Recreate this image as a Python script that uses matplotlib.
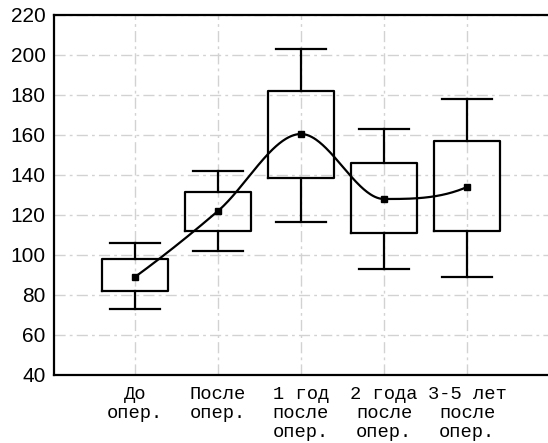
import matplotlib
matplotlib.use("Agg")
import matplotlib.pyplot as plt
import numpy as np

# Periods of observation
labels = ["До\nопер.", "После\nопер.", "1 год\nпосле\nопер.",
          "2 года\nпосле\nопер.", "3-5 лет\nпосле\nопер."]

# Box statistics per period
whisk_lo = [73, 102, 116.5, 93, 89]
q1 = [82, 112, 138.5, 111, 112]
q3 = [98, 131.5, 182, 146, 157]
whisk_hi = [106, 142, 203, 163, 178]
means = [89, 122, 160.5, 128, 134]


def pchip(x, y, xs):
    """Shape-preserving cubic (Fritsch-Carlson) through (x, y)."""
    x = np.asarray(x, float)
    y = np.asarray(y, float)
    n = len(x)
    h = np.diff(x)
    delta = np.diff(y) / h
    d = np.zeros(n)
    for i in range(1, n - 1):
        if delta[i - 1] * delta[i] > 0:
            w1 = 2 * h[i] + h[i - 1]
            w2 = h[i] + 2 * h[i - 1]
            d[i] = (w1 + w2) / (w1 / delta[i - 1] + w2 / delta[i])

    def end_slope(h0, h1, d0, d1):
        s = ((2 * h0 + h1) * d0 - h0 * d1) / (h0 + h1)
        if np.sign(s) != np.sign(d0):
            s = 0.0
        elif np.sign(d0) != np.sign(d1) and abs(s) > abs(3 * d0):
            s = 3 * d0
        return s

    d[0] = end_slope(h[0], h[1], delta[0], delta[1])
    d[-1] = end_slope(h[-1], h[-2], delta[-1], delta[-2])

    out = np.empty_like(xs)
    for k, xv in enumerate(xs):
        i = int(np.clip(np.searchsorted(x, xv, side="right") - 1, 0, n - 2))
        t = (xv - x[i]) / h[i]
        h00 = 2 * t ** 3 - 3 * t ** 2 + 1
        h10 = t ** 3 - 2 * t ** 2 + t
        h01 = -2 * t ** 3 + 3 * t ** 2
        h11 = t ** 3 - t ** 2
        out[k] = h00 * y[i] + h10 * h[i] * d[i] + h01 * y[i + 1] + h11 * h[i] * d[i + 1]
    return out


fig = plt.figure(figsize=(5.48, 4.43), dpi=100)
ax = fig.add_axes([54 / 548, 68 / 443, 1 - 54 / 548, 360 / 443])

pos = np.arange(1, len(labels) + 1)
stats = []
for i in range(len(labels)):
    stats.append(dict(whislo=whisk_lo[i], q1=q1[i], med=q1[i], q3=q3[i],
                      whishi=whisk_hi[i], fliers=[]))

lw = 1.6
ax.bxp(stats, positions=pos, widths=0.79, showfliers=False,
       boxprops=dict(color="black", linewidth=lw),
       whiskerprops=dict(color="black", linewidth=lw),
       capprops=dict(color="black", linewidth=lw),
       medianprops=dict(visible=False),
       capwidths=0.6, zorder=3)

# smooth line through the means
xs = np.linspace(pos[0], pos[-1], 300)
ax.plot(xs, pchip(pos, means, xs), color="black", lw=1.6, zorder=4)
ax.plot(pos, means, "s", color="black", ms=4, zorder=5)

ax.set_xlim(0.025, 5.975)
ax.set_ylim(40, 220)
ax.set_yticks(np.arange(40, 221, 20))
ax.set_xticks(pos)
ax.set_xticklabels(labels, family="Liberation Mono", fontsize=13.5,
                   linespacing=1.15)
for t in ax.get_yticklabels():
    t.set_family("Liberation Sans")
    t.set_fontsize(15)
ax.tick_params(length=0, pad=6)
ax.tick_params(axis="x", pad=8)

ax.grid(True, color="#d2d2d2", linestyle=(0, (8, 3, 2, 3)), linewidth=1)
ax.set_axisbelow(True)
for side in ["left", "top", "bottom"]:
    ax.spines[side].set_linewidth(1.6)
ax.spines["right"].set_visible(False)

fig.savefig("out.png", dpi=100)
